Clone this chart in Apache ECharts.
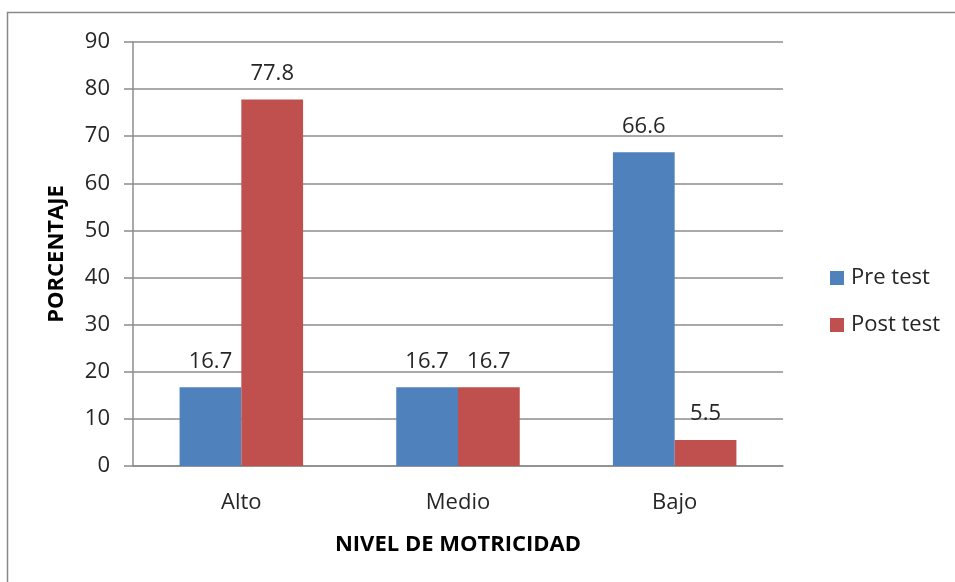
<!DOCTYPE html>
<html>
<head>
<meta charset="utf-8">
<script src="https://cdn.jsdelivr.net/npm/echarts@6/dist/echarts.min.js"></script>
<style>
  html, body { margin: 0; padding: 0; background: #fff; }
  #chart { width: 955px; height: 582px; }
</style>
</head>
<body>
<div id="chart"></div>
<script>
// niveles de motricidad
var categories = ['Alto', 'Medio', 'Bajo'];
var preTest = [16.7, 16.7, 66.6];
var postTest = [77.8, 16.7, 5.5];
var seriesNames = ['Pre test', 'Post test'];

var font = '"Open Sans", "Noto Sans", sans-serif';
var labelStyle = {
  show: true,
  position: 'top',
  distance: 15,
  color: '#262626',
  fontSize: 22,
  fontFamily: font
};

var myChart = echarts.init(document.getElementById('chart'));
var option = {
  animation: false,
  graphic: [{
    type: 'rect',
    shape: { x: 7.5, y: 12.5, width: 960, height: 580 },
    style: { fill: 'none', stroke: '#898989', lineWidth: 1.5 },
    silent: true
  }],
  grid: { left: 133, right: 172, top: 42, bottom: 116 },
  legend: {
    orient: 'vertical',
    left: 825,
    top: 262,
    itemWidth: 14,
    itemHeight: 14,
    itemGap: 25,
    icon: 'rect',
    textStyle: { fontSize: 22, color: '#262626', fontFamily: font, padding: [0, 0, 0, 2] },
    data: seriesNames
  },
  xAxis: {
    type: 'category',
    data: categories,
    name: 'NIVEL DE MOTRICIDAD',
    nameLocation: 'middle',
    nameGap: 68,
    nameTextStyle: { fontSize: 22, fontWeight: 'bold', color: '#000', fontFamily: font },
    axisLine: { lineStyle: { color: '#8c8c8c', width: 1.5 } },
    axisTick: { show: false },
    axisLabel: { fontSize: 22, color: '#262626', fontFamily: font, margin: 26 }
  },
  yAxis: {
    type: 'value',
    min: 0,
    max: 90,
    interval: 10,
    name: 'PORCENTAJE',
    nameLocation: 'middle',
    nameGap: 65,
    nameRotate: 90,
    nameTextStyle: { fontSize: 22, fontWeight: 'bold', color: '#000', fontFamily: font },
    axisLine: { show: true, lineStyle: { color: '#8c8c8c', width: 1.5 } },
    axisTick: { show: true, length: 9, lineStyle: { color: '#8c8c8c', width: 1.5 } },
    axisLabel: { fontSize: 22, color: '#262626', fontFamily: font, margin: 23 },
    splitLine: { lineStyle: { color: '#8c8c8c', width: 1.5 } }
  },
  series: [{
    name: seriesNames[0],
    type: 'bar',
    data: preTest,
    barGap: '0%',
    barCategoryGap: '43%',
    itemStyle: { color: '#4F81BD' },
    label: labelStyle
  }, {
    name: seriesNames[1],
    type: 'bar',
    data: postTest,
    barGap: '0%',
    barCategoryGap: '43%',
    itemStyle: { color: '#C0504D' },
    label: labelStyle
  }]
};
myChart.setOption(option);
</script>
</body>
</html>
